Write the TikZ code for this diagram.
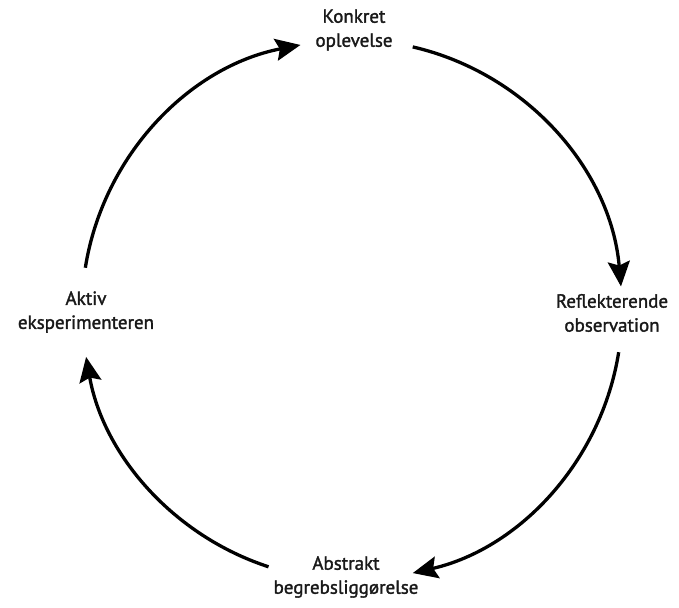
\documentclass[tikz,border=0pt]{standalone}
\usepackage{fontspec}
\setmainfont{PT Sans}
\newfontfamily\phasefont{PT Sans}[FakeBold=1.6]
\usetikzlibrary{arrows.meta,calc}
\begin{document}
\begin{tikzpicture}[x=1pt,y=1pt,
  phase/.style={align=center,font=\phasefont\fontsize{19}{24}\selectfont,text=black!90},
  cycle/.style={line width=3.3pt,-{Stealth[length=25pt,width=22pt,inset=4pt]}}]
  \useasboundingbox (0,0) rectangle (679,607);
  \coordinate (c) at (352,297);
  \def\R{270}
  % the four phases of the cycle
  \node[phase] (konkret) at (354,577) {Konkret\\oplevelse};
  \node[phase] (refl) at (612,294) {Reflekterende\\observation};
  \node[phase] (abstr) at (346,30) {Abstrakt\\begrebsliggørelse};
  \node[phase] (aktiv) at (86,295) {Aktiv\\eksperimenteren};
  % start points of the arcs on the circle
  \coordinate (s1) at ($(c)+(171:\R)$);
  \coordinate (s2) at ($(c)+(77:\R)$);
  \coordinate (s3) at ($(c)+(-9:\R)$);
  \coordinate (s4) at ($(c)+(-108:\R)$);
  \draw[cycle] (s1) arc[start angle=171,end angle=101,radius=\R];
  \draw[cycle] (s2) arc[start angle=77,end angle=5,radius=\R];
  \draw[cycle] (s3) arc[start angle=-9,end angle=-77,radius=\R];
  \draw[cycle] (s4) arc[start angle=-108,end angle=-170,radius=\R];
\end{tikzpicture}
\end{document}
